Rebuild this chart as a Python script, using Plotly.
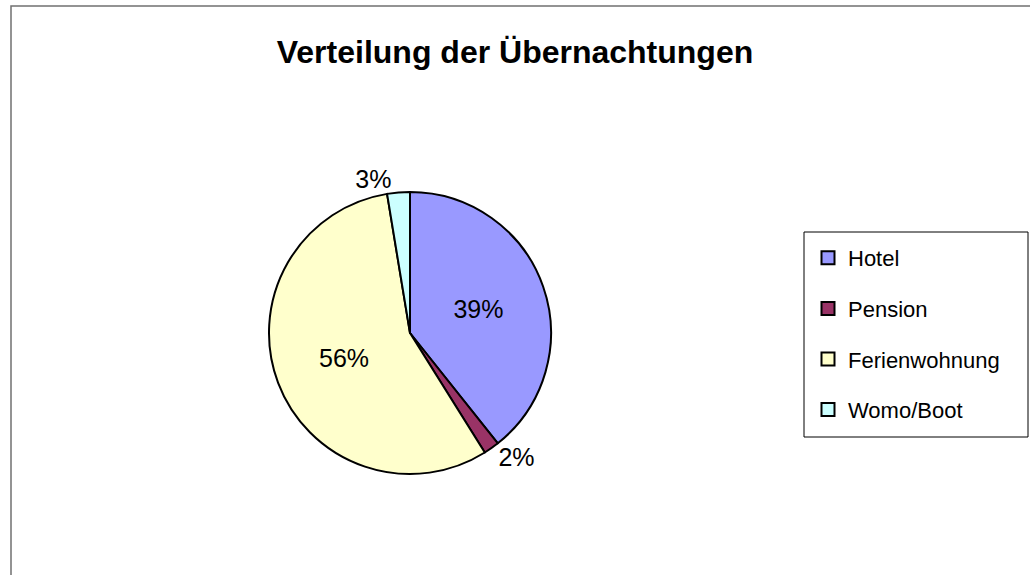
import plotly.graph_objects as go

categories = ["Hotel", "Pension", "Ferienwohnung", "Womo/Boot"]
values = [39.3, 1.8, 56.3, 2.6]
colors = ["#9999FF", "#993366", "#FFFFCC", "#CCFFFF"]
text_positions = ["inside", "outside", "inside", "outside"]

W, H = 1030, 575
FONT = "Arial, 'Liberation Sans', sans-serif"

cx, cy, r = 410, 333, 141

fig = go.Figure()
fig.add_trace(go.Pie(
    labels=categories,
    values=values,
    sort=False,
    direction="clockwise",
    rotation=0,
    marker=dict(colors=colors, line=dict(color="black", width=2)),
    textinfo="percent",
    texttemplate="%{percent:.0%}",
    textposition=text_positions,
    insidetextfont=dict(family=FONT, size=25, color="black"),
    outsidetextfont=dict(family=FONT, size=25, color="black"),
    insidetextorientation="horizontal",
    showlegend=False,
    hoverinfo="label+percent",
    domain=dict(x=[(cx - r) / W, (cx + r) / W],
                y=[(H - cy - r) / H, (H - cy + r) / H]),
))

# legend entries (one group per category so they can be spaced)
for cat, col in zip(categories, colors):
    fig.add_trace(go.Scatter(
        x=[None], y=[None], mode="markers", name=cat,
        legendgroup=cat,
        marker=dict(symbol="square", size=13, color=col,
                    line=dict(color="black", width=2)),
        hoverinfo="skip",
    ))

fig.update_layout(
    width=W, height=H,
    margin=dict(l=0, r=0, t=0, b=0),
    paper_bgcolor="white",
    plot_bgcolor="white",
    xaxis=dict(visible=False),
    yaxis=dict(visible=False),
    title=dict(text="<b>Verteilung der Übernachtungen</b>",
               x=0.5, xanchor="center",
               y=1 - 52 / H, yanchor="middle",
               font=dict(family=FONT, size=32, color="black")),
    legend=dict(
        x=808 / W, xanchor="left",
        y=1 - 237 / H, yanchor="top",
        bgcolor="rgba(0,0,0,0)", borderwidth=0,
        font=dict(family=FONT, size=22, color="black"),
        traceorder="grouped",
        tracegroupgap=19,
        itemclick=False,
    ),
    shapes=[
        dict(type="rect", xref="paper", yref="paper",
             x0=11 / W, x1=1.05, y0=-0.05, y1=1 - 6 / H,
             line=dict(color="#707070", width=1.5),
             fillcolor="rgba(0,0,0,0)", layer="below"),
        dict(type="rect", xref="paper", yref="paper",
             x0=804 / W, x1=1028 / W, y0=1 - 437 / H, y1=1 - 232 / H,
             line=dict(color="black", width=1),
             fillcolor="white", layer="below"),
    ],
)

fig.write_html("out.html")
